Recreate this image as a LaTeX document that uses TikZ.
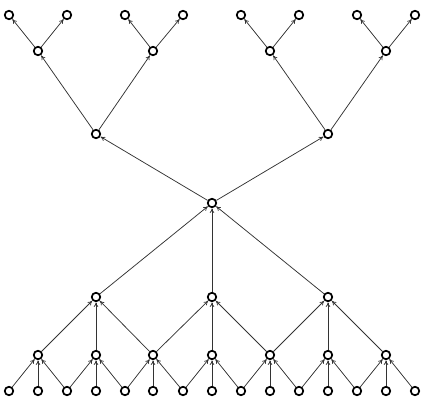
\documentclass[tikz,border=0pt]{standalone}
\usetikzlibrary{arrows.meta}
\begin{document}
\begin{tikzpicture}[x=1bp,y=-1bp,
  vert/.style={circle,draw=black,line width=1.7bp,minimum size=8.5bp,inner sep=0pt,fill=white},
  edge/.style={draw=black!80,line width=0.75bp,-{To[length=4.5bp,width=4.5bp]},shorten >=0.3bp}]
\useasboundingbox (0,0) rectangle (428,413);
% top tree
\node[vert] (c) at (212,203) {};
\node[vert] (tL) at (96,134) {};
\node[vert] (tR) at (328,134) {};
\foreach \i/\x in {1/38,2/153,3/270,4/386} \node[vert] (g\i) at (\x,51) {};
\foreach \i/\x in {1/9,2/67,3/125,4/183,5/241,6/299,7/357,8/415} \node[vert] (l\i) at (\x,15) {};
\draw[edge] (c) -- (tL);
\draw[edge] (c) -- (tR);
\draw[edge] (tL) -- (g1);
\draw[edge] (tL) -- (g2);
\draw[edge] (tR) -- (g3);
\draw[edge] (tR) -- (g4);
\draw[edge] (g1) -- (l1);
\draw[edge] (g1) -- (l2);
\draw[edge] (g2) -- (l3);
\draw[edge] (g2) -- (l4);
\draw[edge] (g3) -- (l5);
\draw[edge] (g3) -- (l6);
\draw[edge] (g4) -- (l7);
\draw[edge] (g4) -- (l8);
% bottom
\foreach \i/\x in {1/96,2/212,3/328} \node[vert] (a\i) at (\x,297) {};
\foreach \i/\x in {1/38,2/96,3/153,4/212,5/270,6/328,7/386} \node[vert] (m\i) at (\x,355) {};
\foreach \i/\x in {1/9,2/38,3/67,4/96,5/125,6/153,7/183,8/212,9/241,10/270,11/299,12/328,13/357,14/386,15/415} \node[vert] (b\i) at (\x,391) {};
\foreach \i in {1,2,3} \draw[edge] (a\i) -- (c);
\draw[edge] (m1) -- (a1);
\draw[edge] (m2) -- (a1);
\draw[edge] (m3) -- (a1);
\draw[edge] (m3) -- (a2);
\draw[edge] (m4) -- (a2);
\draw[edge] (m5) -- (a2);
\draw[edge] (m5) -- (a3);
\draw[edge] (m6) -- (a3);
\draw[edge] (m7) -- (a3);
\draw[edge] (b1) -- (m1);
\draw[edge] (b2) -- (m1);
\draw[edge] (b3) -- (m1);
\draw[edge] (b3) -- (m2);
\draw[edge] (b4) -- (m2);
\draw[edge] (b5) -- (m2);
\draw[edge] (b5) -- (m3);
\draw[edge] (b6) -- (m3);
\draw[edge] (b7) -- (m3);
\draw[edge] (b7) -- (m4);
\draw[edge] (b8) -- (m4);
\draw[edge] (b9) -- (m4);
\draw[edge] (b9) -- (m5);
\draw[edge] (b10) -- (m5);
\draw[edge] (b11) -- (m5);
\draw[edge] (b11) -- (m6);
\draw[edge] (b12) -- (m6);
\draw[edge] (b13) -- (m6);
\draw[edge] (b13) -- (m7);
\draw[edge] (b14) -- (m7);
\draw[edge] (b15) -- (m7);
\end{tikzpicture}
\end{document}
